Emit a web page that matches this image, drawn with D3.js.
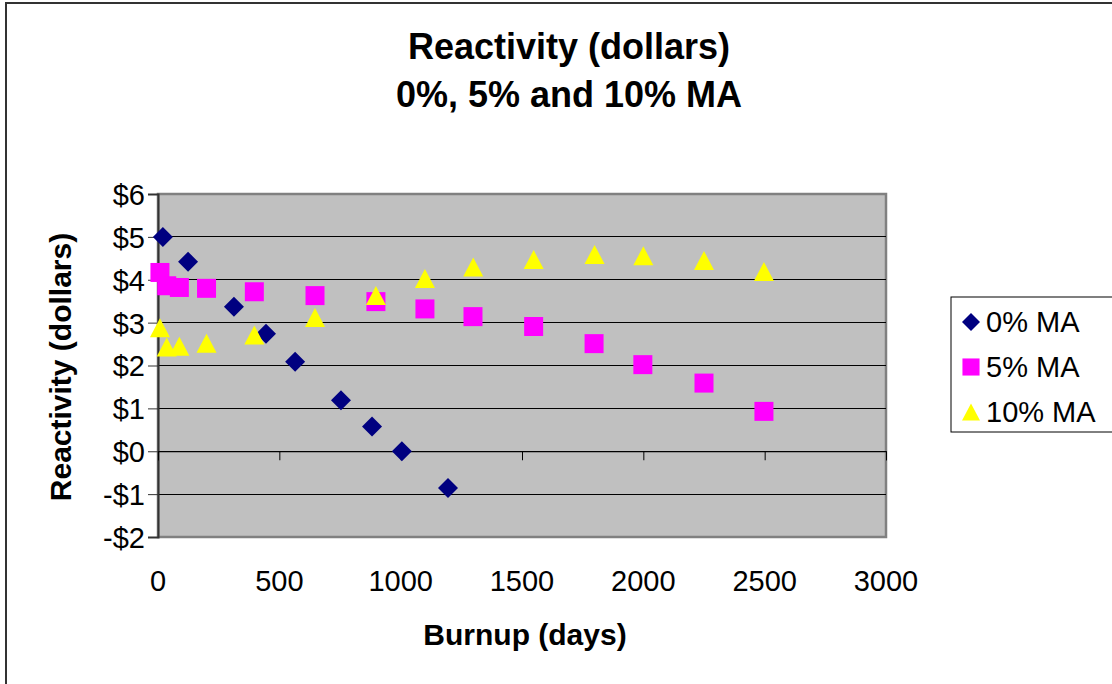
<!DOCTYPE html>
<html>
<head>
<meta charset="utf-8">
<script src="https://cdn.jsdelivr.net/npm/d3@7"></script>
<style>
  body { margin: 0; background: #fff; }
  text { font-family: "Liberation Sans", Arial, sans-serif; fill: #000; }
</style>
</head>
<body>
<svg id="chart" width="1112" height="684"></svg>
<script>
// Burnup (days) / reactivity ($)
var ma0Days = [20, 124, 313, 445, 565, 754, 882, 1005, 1195];
var ma0Rho = [5.0, 4.42, 3.37, 2.74, 2.09, 1.19, 0.58, 0.0, -0.86];

var ma5Days = [8, 36, 88, 200, 397, 647, 898, 1100, 1298, 1548, 1797, 1998, 2250, 2497];
var ma5Rho = [4.17, 3.86, 3.82, 3.8, 3.72, 3.63, 3.49, 3.32, 3.14, 2.91, 2.51, 2.02, 1.59, 0.93];

var ma10Days = [8, 36, 88, 200, 397, 647, 898, 1100, 1299, 1548, 1799, 2000, 2250, 2497];
var ma10Rho = [2.88, 2.43, 2.45, 2.52, 2.71, 3.12, 3.63, 4.03, 4.3, 4.47, 4.59, 4.56, 4.45, 4.19];

var seriesNames = ["0% MA", "5% MA", "10% MA"];
var xTicks = [0, 500, 1000, 1500, 2000, 2500, 3000];
var yTicks = [-2, -1, 0, 1, 2, 3, 4, 5, 6];

var svg = d3.select("#chart");
var plot = { left: 158, top: 194, right: 886, bottom: 537 };

var x = d3.scaleLinear().domain([0, 3000]).range([plot.left, plot.right]);
var y = d3.scaleLinear().domain([-2, 6]).range([plot.bottom, plot.top]);

// outer chart border
svg.append("rect")
  .attr("x", 6).attr("y", 3)
  .attr("width", 1120).attr("height", 700)
  .style("fill", "#fff").style("stroke", "#333").style("stroke-width", 2);

// plot area
svg.append("rect")
  .attr("x", plot.left).attr("y", plot.top)
  .attr("width", plot.right - plot.left).attr("height", plot.bottom - plot.top)
  .style("fill", "#c0c0c0").style("stroke", "#808080").style("stroke-width", 2.5);

// gridlines
svg.append("g").selectAll("line")
  .data(yTicks.filter(function (d) { return d > -2 && d < 6; }))
  .enter().append("line")
  .attr("x1", plot.left).attr("x2", plot.right)
  .attr("y1", function (d) { return y(d); }).attr("y2", function (d) { return y(d); })
  .style("stroke", "#000").style("stroke-width", 1).style("shape-rendering", "crispEdges");

// y axis
var yAxis = d3.axisLeft(y).tickValues(yTicks).tickSize(10).tickPadding(3)
  .tickFormat(function (d) { return d < 0 ? "-$" + Math.abs(d) : "$" + d; });
var gy = svg.append("g").attr("transform", "translate(" + plot.left + ",0)").call(yAxis);
gy.select(".domain").style("stroke", "#333").style("stroke-width", 2);
gy.selectAll(".tick line").style("stroke", "#333");
gy.selectAll("text").style("font-size", "29px").attr("dy", "0.36em");

// x axis crossing at $0, labels at bottom
var xAxis = d3.axisBottom(x).tickValues(xTicks).tickSize(9).tickFormat("");
var gx = svg.append("g").attr("transform", "translate(0," + y(0) + ")").call(xAxis);
gx.select(".domain").style("stroke", "#000").style("stroke-width", 1);
gx.selectAll(".tick line").style("stroke", "#000");

svg.append("g").selectAll("text")
  .data(xTicks).enter().append("text")
  .attr("x", function (d) { return x(d); })
  .attr("y", 591)
  .attr("text-anchor", "middle")
  .style("font-size", "29px")
  .text(function (d) { return d; });

// titles
svg.append("text").attr("x", 569).attr("y", 59).attr("text-anchor", "middle")
  .style("font-size", "36px").style("font-weight", "bold").text("Reactivity (dollars)");
svg.append("text").attr("x", 569).attr("y", 107).attr("text-anchor", "middle")
  .style("font-size", "36px").style("font-weight", "bold").text("0%, 5% and 10% MA");
svg.append("text").attr("x", 525).attr("y", 645).attr("text-anchor", "middle")
  .style("font-size", "30px").style("font-weight", "bold").text("Burnup (days)");
svg.append("text").attr("transform", "translate(71,367) rotate(-90)").attr("text-anchor", "middle")
  .style("font-size", "30px").style("font-weight", "bold").text("Reactivity (dollars)");

// marker shapes
function marker(kind) {
  if (kind === 0) return "M0,-10L10,0L0,10L-10,0Z";
  if (kind === 1) return "M-9.5,-9.5H9.5V9.5H-9.5Z";
  return "M0,-9.5L10,9.5L-10,9.5Z";
}
var fills = ["#000080", "#ff00ff", "#ffff00"];
var series = [
  { days: ma0Days, rho: ma0Rho },
  { days: ma5Days, rho: ma5Rho },
  { days: ma10Days, rho: ma10Rho }
];

series.forEach(function (s, i) {
  svg.append("g").selectAll("path")
    .data(s.days).enter().append("path")
    .attr("d", marker(i))
    .attr("transform", function (d, j) { return "translate(" + x(d) + "," + y(s.rho[j]) + ")"; })
    .style("fill", fills[i]);
});

// legend
var legend = svg.append("g");
legend.append("rect")
  .attr("x", 951).attr("y", 297).attr("width", 200).attr("height", 135)
  .style("fill", "#fff").style("stroke", "#000").style("stroke-width", 1);
seriesNames.forEach(function (name, i) {
  var cy = 322 + i * 45;
  legend.append("path").attr("d", marker(i))
    .attr("transform", "translate(971," + cy + ") scale(0.9)")
    .style("fill", fills[i]);
  legend.append("text").attr("x", 986).attr("y", cy).attr("dy", "0.36em")
    .style("font-size", "29px").text(name);
});
</script>
</body>
</html>
